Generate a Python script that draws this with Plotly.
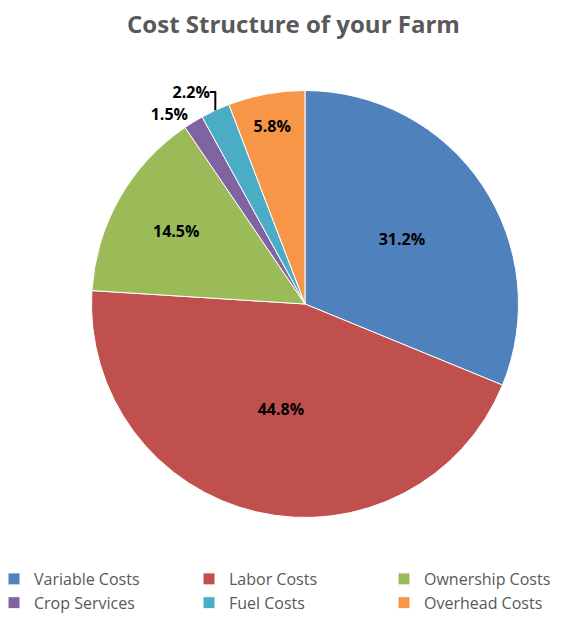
import plotly.graph_objects as go

labels = ["Variable Costs", "Labor Costs", "Ownership Costs", "Crop Services", "Fuel Costs", "Overhead Costs"]
values = [31.2, 44.8, 14.5, 1.5, 2.2, 5.8]
colors = ["#4F81BD", "#C0504D", "#9BBB59", "#8064A2", "#4BACC6", "#F79646"]
positions = ["inside", "inside", "inside", "outside", "outside", "inside"]

W, H = 587, 619
MB = 70                      # bottom margin reserved for the legend
PH = H - MB                  # plot-area height
cx, cy, r = 297, 296, 213.5

fig = go.Figure(go.Pie(
    labels=labels, values=values, sort=False, direction="clockwise", rotation=0,
    marker=dict(colors=colors, line=dict(color="white", width=1)),
    texttemplate="%{percent:.1%}", textposition=positions,
    insidetextorientation="horizontal",
    textfont=dict(family="Open Sans", size=16, color="black", weight="bold"),
    domain=dict(x=[(cx - r) / W, (cx + r) / W],
                y=[(PH - cy - r) / PH, (PH - cy + r) / PH]),
    hoverinfo="label+percent",
))

fig.update_layout(
    width=W, height=H,
    margin=dict(l=0, r=0, t=0, b=MB, autoexpand=False),
    paper_bgcolor="white",
    title=dict(text="<b>Cost Structure of your Farm</b>", x=0.5 - 8 / W, xanchor="center",
               y=1 - 17 / H, yanchor="middle",
               font=dict(family="Open Sans", size=24, color="#595959")),
    legend=dict(orientation="h", x=-14 / W, xanchor="left", y=(PH - 554) / PH, yanchor="top",
                entrywidth=150, entrywidthmode="pixels", itemwidth=30,
                font=dict(family="Open Sans", size=16, color="#595959")),
)

fig.write_html("out.html")
